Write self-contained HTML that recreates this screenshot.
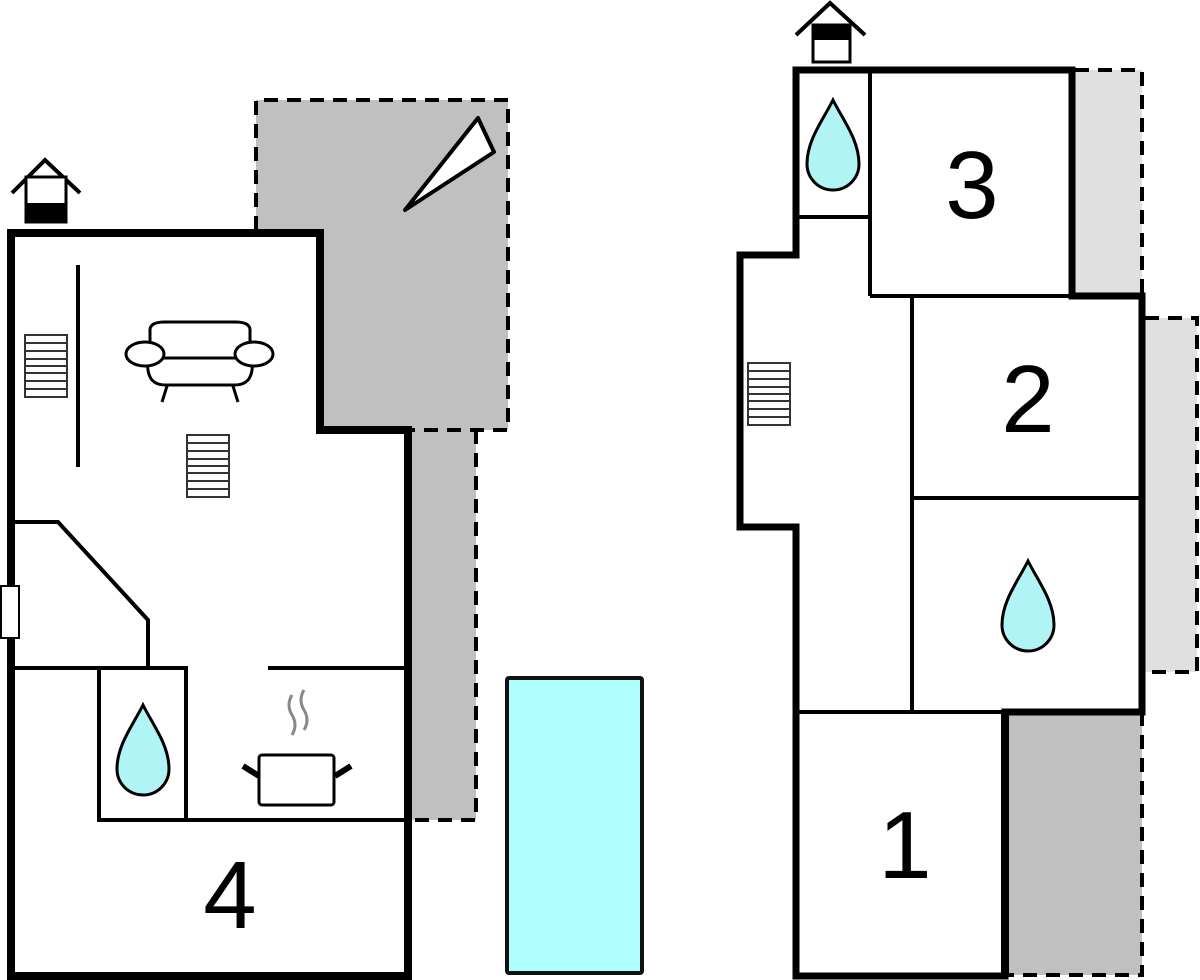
<!DOCTYPE html>
<html><head><meta charset="utf-8"><style>
html,body{margin:0;padding:0;background:#fff;}
svg{display:block;}
text{font-family:"Liberation Sans",sans-serif;font-size:96px;fill:#000;}
</style></head><body>
<svg width="1200" height="980" viewBox="0 0 1200 980" xmlns="http://www.w3.org/2000/svg">
<defs>
<path id="drop" d="M0,-45 C10,-25 26,-5 26,19 A26,26 0 0 1 -26,19 C-26,-5 -10,-25 0,-45 Z" fill="#b0f4f6" stroke="#000" stroke-width="3"/>
<g id="stairs" fill="#fff" stroke="#333" stroke-width="2">
<rect x="0" y="0" width="42" height="62"/>
<line x1="0" y1="8" x2="42" y2="8"/><line x1="0" y1="16" x2="42" y2="16"/><line x1="0" y1="24" x2="42" y2="24"/><line x1="0" y1="31" x2="42" y2="31"/><line x1="0" y1="38" x2="42" y2="38"/><line x1="0" y1="46" x2="42" y2="46"/><line x1="0" y1="54" x2="42" y2="54"/>
</g>
</defs>
<!-- left terrace -->
<path d="M256,100 H508 V430 H476 V820 H408 V430 H320 V230 H256 Z" fill="#c0c0c0"/>
<path d="M256,230 V100 H508 V430 H410" fill="none" stroke="#000" stroke-width="4" stroke-dasharray="14,9"/>
<path d="M476,430 V820 H410" fill="none" stroke="#000" stroke-width="4" stroke-dasharray="14,9"/>
<polygon points="405,210 478,118 494,152" fill="#fff" stroke="#000" stroke-width="4" stroke-linejoin="round"/>
<!-- left building -->
<path d="M11,233 H320 V430 H408 V976 H11 Z" fill="#fff" stroke="#000" stroke-width="8"/>
<path d="M12,193 L45,160 L80,193" fill="none" stroke="#000" stroke-width="4"/>
<rect x="26" y="177" width="40" height="45" fill="#fff" stroke="#000" stroke-width="3"/>
<rect x="26" y="203" width="40" height="19" fill="#000"/>
<line x1="78" y1="265" x2="78" y2="467" stroke="#000" stroke-width="4"/>
<use href="#stairs" x="25" y="335"/>
<use href="#stairs" x="187" y="435"/>
<!-- sofa -->
<g fill="#fff" stroke="#000" stroke-width="3">
<line x1="168" y1="383" x2="162" y2="402"/><line x1="232" y1="383" x2="238" y2="402"/>
<path d="M150,330 Q150,322 165,322 H235 Q250,322 250,330 V360 H150 Z"/>
<path d="M148,358 H252 Q255,385 235,385 H165 Q145,385 148,358 Z"/>
<ellipse cx="145" cy="354" rx="19" ry="12"/>
<ellipse cx="254" cy="354" rx="19" ry="12"/>
</g>
<path d="M12,522 H58 L148,620 V668" fill="none" stroke="#000" stroke-width="4"/>
<line x1="12" y1="668" x2="186" y2="668" stroke="#000" stroke-width="4"/>
<rect x="99" y="668" width="87" height="152" fill="#fff" stroke="#000" stroke-width="4"/>
<use href="#drop" x="143" y="750"/>
<line x1="99" y1="820" x2="408" y2="820" stroke="#000" stroke-width="4"/>
<line x1="268" y1="668" x2="406" y2="668" stroke="#000" stroke-width="4"/>
<rect x="1" y="586" width="18" height="52" fill="#fff" stroke="#000" stroke-width="2"/>
<!-- pot -->
<path d="M292,695 q-6,10 0,20 q6,10 0,20 M304,690 q-6,10 0,20 q6,10 0,20" fill="none" stroke="#888" stroke-width="3"/>
<line x1="243" y1="766" x2="259" y2="776" stroke="#000" stroke-width="6"/>
<line x1="351" y1="766" x2="335" y2="776" stroke="#000" stroke-width="6"/>
<rect x="259" y="755" width="75" height="50" rx="3" fill="#fff" stroke="#000" stroke-width="3"/>
<text x="230" y="928" text-anchor="middle">4</text>
<!-- pool -->
<rect x="507" y="678" width="135" height="295" rx="2" fill="#b0ffff" stroke="#111" stroke-width="4"/>
<!-- right building terraces -->
<rect x="1075" y="70" width="67" height="226" fill="#e0e0e0"/>
<path d="M1075,70 H1142 V296" fill="none" stroke="#000" stroke-width="4" stroke-dasharray="14,9"/>
<rect x="1145" y="318" width="52" height="354" fill="#e0e0e0"/>
<path d="M1145,318 H1197 V672 H1145" fill="none" stroke="#000" stroke-width="4" stroke-dasharray="14,9"/>
<rect x="1005" y="712" width="137" height="263" fill="#c0c0c0"/>
<path d="M1142,712 V975 H1008" fill="none" stroke="#000" stroke-width="4" stroke-dasharray="14,9"/>
<!-- right building -->
<path d="M796,70 H1072 V296 H1142 V712 H1005 V976 H796 V527 H740 V255 H796 Z" fill="#fff" stroke="#000" stroke-width="7"/>
<path d="M796,35 L830,3 L865,35" fill="none" stroke="#000" stroke-width="4"/>
<rect x="813" y="25" width="37" height="37" fill="#fff" stroke="#000" stroke-width="3"/>
<rect x="813" y="25" width="37" height="15" fill="#000"/>
<line x1="870" y1="70" x2="870" y2="296" stroke="#000" stroke-width="4"/>
<line x1="796" y1="217" x2="870" y2="217" stroke="#000" stroke-width="4"/>
<line x1="870" y1="296" x2="1072" y2="296" stroke="#000" stroke-width="4"/>
<line x1="912" y1="296" x2="912" y2="712" stroke="#000" stroke-width="4"/>
<line x1="912" y1="498" x2="1142" y2="498" stroke="#000" stroke-width="4"/>
<line x1="796" y1="712" x2="1005" y2="712" stroke="#000" stroke-width="4"/>
<line x1="1005" y1="712" x2="1005" y2="976" stroke="#000" stroke-width="8"/>
<use href="#drop" x="833" y="145"/>
<use href="#drop" x="1028" y="606"/>
<use href="#stairs" x="748" y="363"/>
<text x="972" y="218" text-anchor="middle">3</text>
<text x="1028" y="432" text-anchor="middle">2</text>
<text x="905" y="878" text-anchor="middle">1</text>
</svg>
</body></html>
